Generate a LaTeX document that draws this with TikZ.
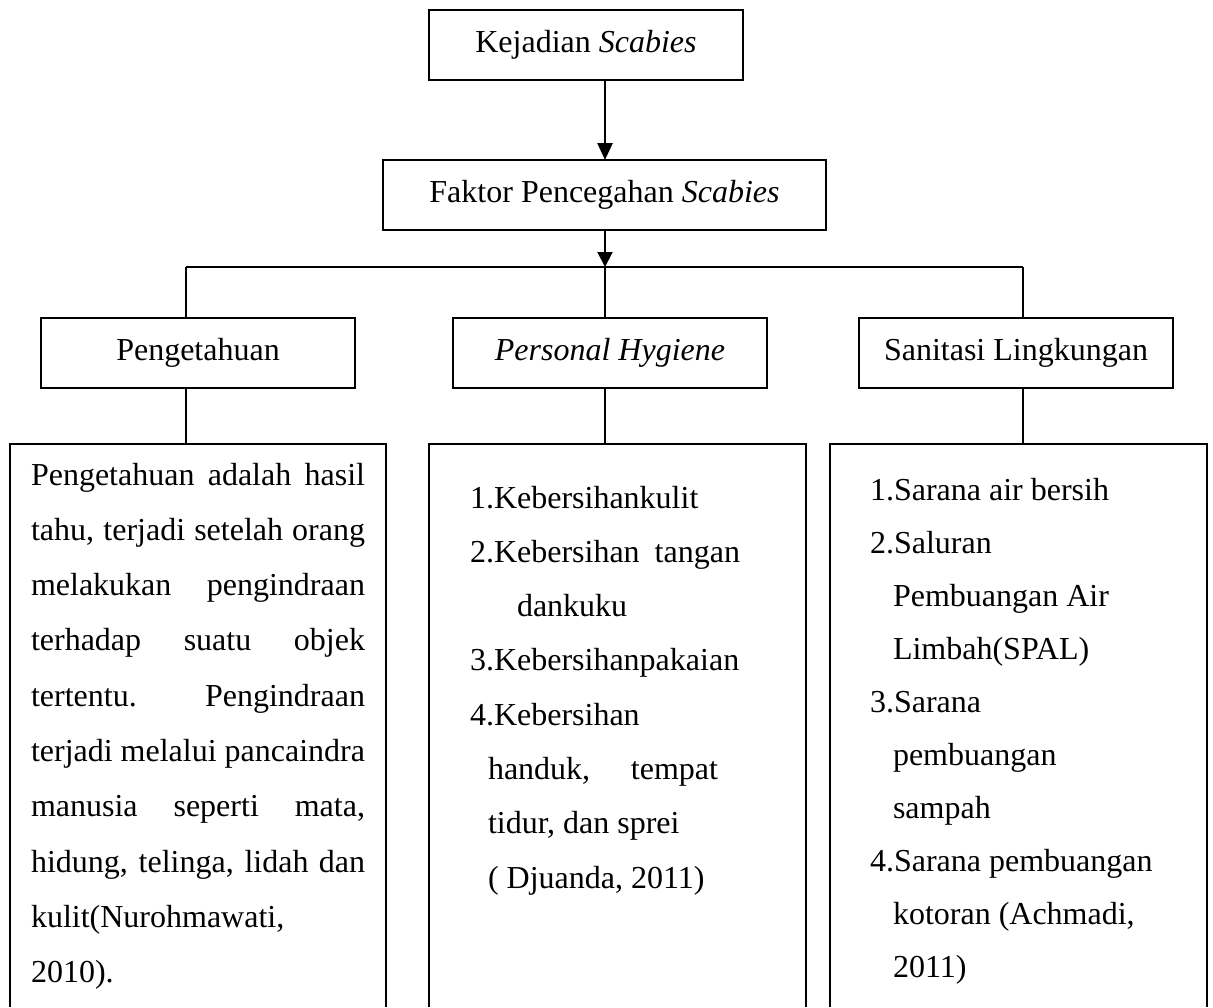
\documentclass[tikz,border=0pt]{standalone}
\usepackage{fontspec}
\setmainfont{Liberation Serif}
\usetikzlibrary{arrows.meta}
\newcommand\jline[2]{\makebox[#1][s]{#2}}
\begin{document}
\begin{tikzpicture}[x=0.5pt,y=-0.5pt,
  box/.style={draw,line width=1.1pt,inner sep=0pt,outer sep=0pt,minimum height=35pt,font=\fontsize{16}{19}\selectfont},
  openbox/.style={inner sep=0pt,outer sep=0pt,minimum height=281.5pt,anchor=north},
  boxline/.style={line width=1.1pt},
  conn/.style={line width=0.75pt},
  arrA/.style={line width=1.3pt,-{Triangle[length=8.5pt,width=7.5pt]}},
  arrB/.style={line width=1pt,-{Triangle[length=7.5pt,width=7.5pt]}},
  txt/.style={anchor=base west,inner sep=0pt,outer sep=0pt,font=\fontsize{16}{19}\selectfont}]
\useasboundingbox (0,0) rectangle (1213,1007);

% top boxes
\node[box,minimum width=157pt] (K) at (586,45) {Kejadian \textit{Scabies}};
\node[box,minimum width=221.5pt] (F) at (604.5,195) {Faktor Pencegahan \textit{Scabies}};

% hub coordinates
\coordinate (hub) at (605,267);
\coordinate (hl) at (186,267);
\coordinate (hr) at (1023,267);

% level 2 boxes
\node[box,minimum width=157pt] (P) at (198,353) {Pengetahuan};
\node[box,minimum width=157pt] (H) at (610,353) {\textit{Personal Hygiene}};
\node[box,minimum width=157pt] (S) at (1016,353) {Sanitasi Lingkungan};

% bottom open boxes
\node[openbox,minimum width=188pt] (dA) at (198,444) {};
\node[openbox,minimum width=188.5pt] (dB) at (617.5,444) {};
\node[openbox,minimum width=188.5pt] (dC) at (1018.5,444) {};
\foreach \b in {dA,dB,dC}
  \draw[boxline] (\b.south west) -- (\b.north west) -- (\b.north east) -- (\b.south east);

% arrows
\draw[arrA] (K.south -| hub) -- (F.north -| hub);
\draw[arrB] (F.south -| hub) -- (hub);

% tree connectors
\draw[conn] (hl) -- (hr);
\draw[conn] (hl) -- (hl |- P.north);
\draw[conn] (hub) -- (hub |- H.north);
\draw[conn] (hr) -- (hr |- S.north);
\draw[conn] (P.south -| hl) -- (dA.north -| hl);
\draw[conn] (H.south -| hub) -- (dB.north -| hub);
\draw[conn] (S.south -| hr) -- (dC.north -| hr);

% box A text
\node[txt] (a1) at (31,485) {\jline{167pt}{Pengetahuan adalah hasil}};
\node[txt] (a2) at (31,540.3) {\jline{167pt}{tahu, terjadi setelah orang}};
\node[txt] (a3) at (31,595.6) {\jline{167pt}{melakukan pengindraan}};
\node[txt] (a4) at (31,650.9) {\jline{167pt}{terhadap suatu objek}};
\node[txt] (a5) at (31,706.2) {\jline{167pt}{tertentu. Pengindraan}};
\node[txt] (a6) at (31,761.5) {\jline{167pt}{terjadi melalui pancaindra}};
\node[txt] (a7) at (31,816.8) {\jline{167pt}{manusia seperti mata,}};
\node[txt] (a8) at (31,872.1) {\jline{167pt}{hidung, telinga, lidah dan}};
\node[txt] (a9) at (31,927.4) {kulit(Nurohmawati,};
\node[txt] (a10) at (31,982.7) {2010).};

% box B text
\node[txt] (b1) at (470,508) {1.Kebersihankulit};
\node[txt] (b2) at (470,562.3) {\jline{135pt}{2.Kebersihan tangan}};
\node[txt] (b3) at (517,616.6) {dankuku};
\node[txt] (b4) at (470,670.9) {3.Kebersihanpakaian};
\node[txt] (b5) at (470,725.2) {4.Kebersihan};
\node[txt] (b6) at (488,779.5) {\jline{115pt}{handuk, tempat}};
\node[txt] (b7) at (488,833.8) {tidur, dan sprei};
\node[txt] (b8) at (488,888.1) {( Djuanda, 2011)};

% box C text
\node[txt] (c1) at (870,500) {1.Sarana air bersih};
\node[txt] (c2) at (870,553) {2.Saluran};
\node[txt] (c3) at (893,606) {Pembuangan Air};
\node[txt] (c4) at (893,659) {Limbah(SPAL)};
\node[txt] (c5) at (870,712) {3.Sarana};
\node[txt] (c6) at (893,765) {pembuangan};
\node[txt] (c7) at (893,818) {sampah};
\node[txt] (c8) at (870,871) {4.Sarana pembuangan};
\node[txt] (c9) at (893,924) {kotoran (Achmadi,};
\node[txt] (c10) at (893,977) {2011)};
\end{tikzpicture}
\end{document}
